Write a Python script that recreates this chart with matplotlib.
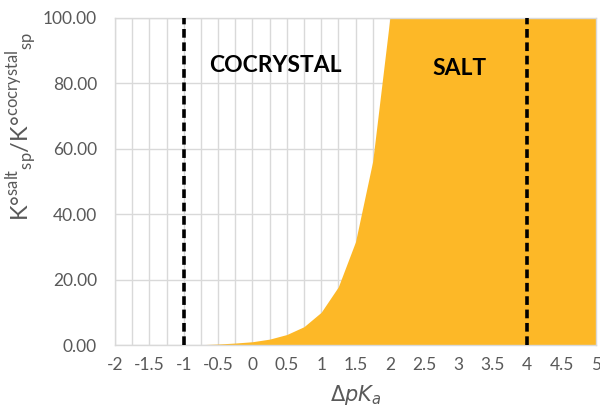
import matplotlib
matplotlib.use("Agg")
import matplotlib.pyplot as plt
import numpy as np

# ---- data ----
dpka = [-2, -1.75, -1.5, -1.25, -1, -0.75, -0.5, -0.25, 0, 0.25, 0.5, 0.75, 1,
        1.25, 1.5, 1.75, 2, 2.25, 2.5, 2.75, 3, 3.25, 3.5, 3.75, 4, 4.25, 4.5, 4.75, 5]
ratio = [0.0, 0.0, 0.0, 0.0, 0.0, 0.1, 0.3, 0.6, 1.0, 1.8, 3.2, 5.6, 10.0,
         17.8, 31.6, 56.2, 100, 100, 100, 100, 100, 100, 100, 100, 100, 100, 100, 100, 100]
tick_vals = [-2, -1.5, -1, -0.5, 0, 0.5, 1, 1.5, 2, 2.5, 3, 3.5, 4, 4.5, 5]
tick_labels = ["-2", "-1.5", "-1", "-0.5", "0", "0.5", "1", "1.5", "2", "2.5", "3", "3.5", "4", "4.5", "5"]
y_ticks = [0, 20, 40, 60, 80, 100]
y_labels = ["0.00", "20.00", "40.00", "60.00", "80.00", "100.00"]
boundaries = [-1, 4]
region_labels = ["COCRYSTAL", "SALT"]
region_x = [0.33, 3.02]
region_y = [85.6, 84.7]

plt.rcParams['font.family'] = ['Lato', 'DejaVu Sans']

fig = plt.figure(figsize=(6.0, 4.09), dpi=100)
ax = fig.add_axes([115/600, 1-345/409, 481/600, 327/409])

grid_c = '#D9D9D9'
ax.set_xlim(-2, 5)
ax.set_ylim(0, 100)
ax.set_xticks(np.arange(-2, 5.01, 0.25), minor=True)
ax.set_xticks(tick_vals)
ax.set_xticklabels(tick_labels)
ax.set_yticks(y_ticks)
ax.set_yticklabels(y_labels)
ax.grid(True, which='both', axis='x', color=grid_c, linewidth=1.0, zorder=0)
ax.grid(True, which='major', axis='y', color=grid_c, linewidth=1.0, zorder=0)
ax.set_axisbelow(True)
for s in ax.spines.values():
    s.set_color(grid_c)
    s.set_linewidth(1.0)
ax.tick_params(which='both', length=0, colors='#595959', labelsize=12.5)
ax.tick_params(axis='y', pad=13)
ax.tick_params(axis='x', pad=9)

ax.fill_between(dpka, ratio, 0, color='#FDB827', linewidth=0, zorder=2)

for b in boundaries:
    ax.axvline(b, color='black', linewidth=2.6, linestyle=(0, (2.4, 1.3)), zorder=3)

for t, x, y in zip(region_labels, region_x, region_y):
    ax.text(x, y, t, ha='center', va='center', fontsize=16.5, fontweight='bold',
            color='black', zorder=4)

ax.set_xlabel(r'$\Delta pK_a$', fontsize=15, color='#595959', labelpad=7)
fig.text(22/600, 1-127/409,
         r'K°$^{\mathregular{salt}}{}_{\mathregular{sp}}$/K°$^{\mathregular{cocrystal}}{}_{\mathregular{sp}}$',
         rotation=90, ha='center', va='center', fontsize=17, color='#595959')

fig.savefig('out.png', dpi=100)
